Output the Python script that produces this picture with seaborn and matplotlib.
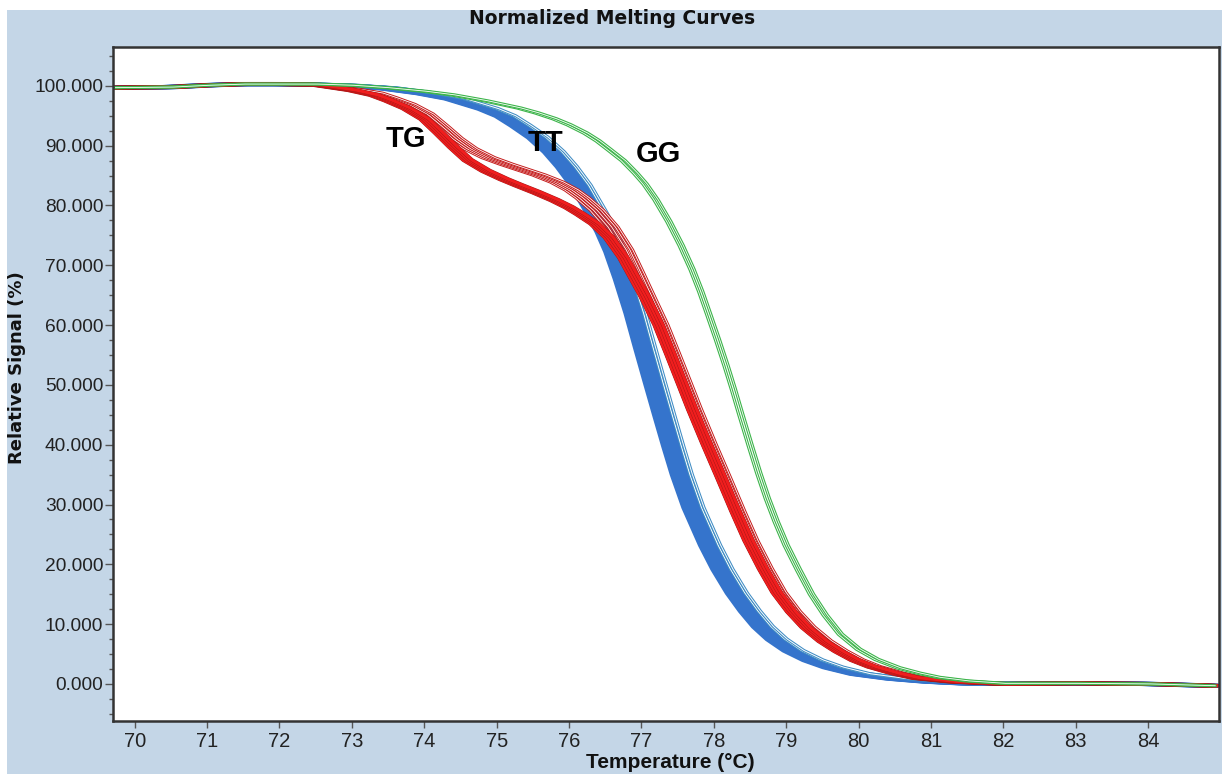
import numpy as np
import pandas as pd
import matplotlib
matplotlib.use("Agg")
import matplotlib.pyplot as plt
import seaborn as sns
from matplotlib import patheffects as pe
from matplotlib.ticker import MultipleLocator, FormatStrFormatter
from matplotlib.patches import Rectangle
from matplotlib import font_manager

# ---------------- data ----------------
tt_temp = [69.7, 70.5, 71.0, 71.5, 72.0, 72.5, 73.0, 73.5, 74.0, 74.4, 74.86, 75.1,
           75.31, 75.55, 75.77, 75.95, 76.14, 76.37, 76.5, 76.62, 76.75, 76.9, 77.03,
           77.17, 77.3, 77.42, 77.54, 77.7, 77.93, 78.1, 78.3, 78.48, 78.66, 78.85,
           79.08, 79.35, 79.63, 80.0, 80.5, 81.0, 81.5, 82.0, 83.0, 84.0, 84.9]
tt_signal = [99.7, 99.8, 100.1, 100.3, 100.3, 100.2, 100.0, 99.6, 98.8, 97.9, 96.2, 95.0,
             93.4, 91.4, 89.0, 86.5, 83.4, 78.6, 75.6, 72.3, 67.8, 62.0, 56.3,
             50.3, 44.8, 39.8, 35.0, 29.5, 23.2, 19.2, 15.2, 12.2, 9.6, 7.5,
             5.6, 4.0, 2.8, 1.7, 0.9, 0.4, 0.1, 0.0, 0.1, 0.0, -0.3]

tg_temp = [69.7, 70.5, 71.0, 71.5, 72.0, 72.5, 73.0, 73.3, 73.5, 73.75, 74.0, 74.2,
           74.4, 74.6, 74.85, 75.1, 75.3, 75.55, 75.8, 76.0, 76.15, 76.35, 76.55,
           76.75, 76.9, 77.05, 77.24, 77.4, 77.56, 77.7, 77.9, 78.1, 78.3, 78.48,
           78.68, 78.87, 79.07, 79.27, 79.5, 79.72, 79.95, 80.18, 80.5, 80.8, 81.3,
           82.0, 83.0, 84.0, 84.9]
tg_signal_low = [99.7, 99.8, 100.1, 100.3, 100.3, 100.2, 99.3, 98.5, 97.6, 96.3, 94.5, 92.2,
                 89.8, 87.6, 85.8, 84.4, 83.4, 82.2, 80.9, 79.7, 78.6, 77.0, 74.7,
                 71.3, 68.0, 64.7, 60.0, 55.2, 50.3, 46.0, 40.2, 34.6, 28.9, 24.0,
                 19.3, 15.3, 12.1, 9.5, 7.2, 5.5, 4.0, 2.9, 1.8, 1.0, 0.4,
                 0.0, 0.1, 0.0, -0.3]
tg_signal_high = [99.7, 99.8, 100.1, 100.3, 100.3, 100.2, 99.4, 98.8, 98.0, 96.9, 95.3, 93.3,
                  91.2, 89.5, 88.0, 86.9, 86.1, 85.1, 83.9, 82.6, 81.3, 79.2, 76.4,
                  72.6, 68.8, 64.9, 60.0, 55.2, 50.3, 46.0, 40.2, 34.6, 28.9, 24.0,
                  19.3, 15.3, 12.1, 9.5, 7.2, 5.5, 4.0, 2.9, 1.8, 1.0, 0.4,
                  0.0, 0.1, 0.0, -0.3]

gg_temp = [69.7, 70.5, 71.0, 71.5, 72.0, 72.5, 73.0, 73.48, 74.0, 74.39, 74.85, 75.31,
           75.55, 75.8, 76.0, 76.23, 76.4, 76.55, 76.75, 76.92, 77.05, 77.2, 77.38,
           77.55, 77.7, 77.82, 77.93, 78.05, 78.17, 78.27, 78.37, 78.5, 78.62, 78.74,
           78.86, 79.0, 79.17, 79.35, 79.54, 79.75, 80.0, 80.25, 80.55, 80.83, 81.1,
           81.5, 82.0, 83.0, 84.0, 84.9]
gg_signal = [99.7, 99.8, 100.1, 100.3, 100.3, 100.3, 100.1, 99.7, 99.1, 98.5, 97.5, 96.3,
             95.5, 94.5, 93.5, 92.1, 90.8, 89.4, 87.5, 85.4, 83.6, 81.0, 77.3,
             73.3, 69.3, 65.6, 61.8, 57.6, 53.2, 49.3, 45.2, 40.0, 35.3, 31.0,
             27.2, 23.2, 19.1, 15.0, 11.5, 8.3, 5.8, 4.1, 2.7, 1.8, 1.1,
             0.5, 0.1, 0.1, 0.0, -0.3]

# replicate offsets along temperature (band widths)
tt_band_shifts = [-0.12, -0.09, -0.06, -0.03, 0.0, 0.03, 0.06, 0.09]
tt_edge_shifts = [0.13, 0.165]
tg_low_shifts = [-0.06, -0.02, 0.02, 0.06]
tg_high_shifts = [-0.06, -0.01, 0.04, 0.09, 0.13]
gg_shifts = [-0.03, 0.03]

genotype_labels = ["TG", "TT", "GG"]
label_pos_temp = [73.75, 75.68, 77.24]
label_pos_signal = [91.1, 90.5, 88.6]

x_ticks = list(range(70, 85))
y_ticks = [0, 10, 20, 30, 40, 50, 60, 70, 80, 90, 100]

# ---------------- helpers ----------------
def frame(temps, signal, shifts, name):
    rows = []
    for i, s in enumerate(shifts):
        for t, y in zip(temps, signal):
            rows.append({"temperature": t + s, "signal": y, "replicate": f"{name}{i}"})
    return pd.DataFrame(rows)

sns.set_theme(style="ticks")
avail = {f.name for f in font_manager.fontManager.ttflist}
narrow = "Liberation Sans Narrow" if "Liberation Sans Narrow" in avail else "Liberation Sans"
plt.rcParams["font.family"] = [narrow, "DejaVu Sans"]

W, H = 1222, 774
fig = plt.figure(figsize=(W / 100, H / 100), dpi=100, facecolor="white")
fig.patches.append(Rectangle((7 / W, 0), 1, 1 - 10 / H, transform=fig.transFigure,
                             facecolor="#c4d6e7", edgecolor="none", zorder=-10))
ax = fig.add_axes([113 / W, 1 - 721 / H, (1219 - 113) / W, (721 - 47) / H])
ax.set_facecolor("white")

def draw(df, color, lw, effects=None, z=2):
    n0 = len(ax.lines)
    sns.lineplot(data=df, x="temperature", y="signal", units="replicate", estimator=None,
                 color=color, lw=lw, sort=False, legend=False, ax=ax)
    for ln in ax.lines[n0:]:
        ln.set_zorder(z)
        ln.set_solid_joinstyle("round")
        if effects:
            ln.set_path_effects(effects)

BLUE = "#3574cc"
RED = "#f01e1e"
GREEN = "#3cb44a"

draw(frame(tt_temp, tt_signal, tt_band_shifts, "tt"), BLUE, 3.0, z=2)
draw(frame(tt_temp, tt_signal, tt_edge_shifts, "tte"), "white", 0.7,
     [pe.Stroke(linewidth=2.2, foreground="#3f8cc4"), pe.Normal()], z=2.1)
draw(frame(tg_temp, tg_signal_high, tg_high_shifts, "tgh"), "white", 0.6,
     [pe.Stroke(linewidth=2.0, foreground="#c41a1a"), pe.Normal()], z=2.2)
draw(frame(tg_temp, tg_signal_low, tg_low_shifts, "tgl"), RED, 2.2,
     [pe.Stroke(linewidth=2.8, foreground="#a01616"), pe.Normal()], z=2.3)
draw(frame(gg_temp, gg_signal, gg_shifts, "gg"), "white", 0.6,
     [pe.Stroke(linewidth=2.2, foreground=GREEN), pe.Normal()], z=2.4)

for lab, tx, ty in zip(genotype_labels, label_pos_temp, label_pos_signal):
    ax.text(tx, ty, lab, fontsize=21, fontweight="bold", family=["Liberation Sans", "DejaVu Sans"],
            ha="center", va="center", color="black", zorder=5)

ax.set_xlim(69.7, 84.98)
ax.set_ylim(-6.2, 106.5)
ax.set_xticks(x_ticks)
ax.set_yticks(y_ticks)
ax.yaxis.set_minor_locator(MultipleLocator(2.5))
ax.yaxis.set_major_formatter(FormatStrFormatter("%.3f"))
ax.xaxis.set_major_formatter(FormatStrFormatter("%d"))
ax.set_xlabel("")
ax.set_ylabel("")
ax.tick_params(axis="y", which="major", length=6, width=1, color="#555555", direction="out",
               pad=1, labelsize=13.8, labelcolor="#222222", left=True)
ax.tick_params(axis="y", which="minor", length=3, width=1, color="#555555", direction="out", left=True)
ax.tick_params(axis="x", which="major", length=5, width=1, color="#555555", direction="out",
               pad=3, labelsize=14.5, labelcolor="#222222", bottom=True)
for s in ax.spines.values():
    s.set_visible(True)
    s.set_color("#333333")
    s.set_linewidth(1.8)

fig.text(612 / W, 1 - 19 / H, "Normalized Melting Curves", ha="center", va="center",
         fontsize=13.5, fontweight="bold", family=["DejaVu Sans"], color="#111111")
fig.text(670 / W, 1 - 762 / H, "Temperature (°C)", ha="center", va="center",
         fontsize=15, fontweight="bold", family=[narrow, "DejaVu Sans"], color="#111111")
fig.text(17 / W, 1 - 368 / H, "Relative Signal (%)", ha="center", va="center", rotation=90,
         fontsize=13, fontweight="bold", family=["DejaVu Sans"], color="#111111")

fig.savefig("out.png", dpi=100, facecolor=fig.get_facecolor())
